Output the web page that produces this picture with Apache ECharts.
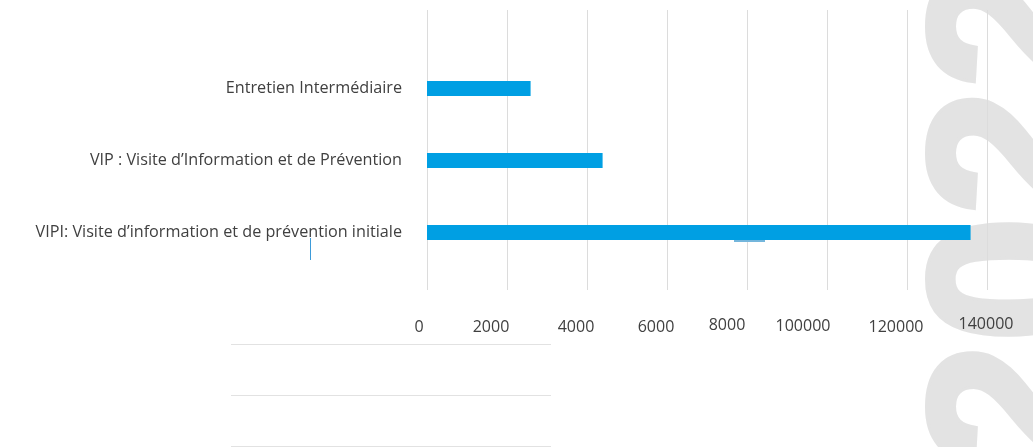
<!DOCTYPE html>
<html>
<head>
<meta charset="utf-8">
<script src="https://cdn.jsdelivr.net/npm/echarts@6/dist/echarts.min.js"></script>
<style>
  html, body { margin: 0; padding: 0; background: #ffffff; }
  #chart { width: 1033px; height: 447px; }
</style>
</head>
<body>
<div id="chart"></div>
<script>
// Visit types, listed bottom to top
const categories = [
  'VIPI: Visite d’information et de prévention initiale',
  'VIP : Visite d’Information et de Prévention',
  'Entretien Intermédiaire'
];
// Number of visits per type
const visits = [13590, 4390, 2590];
// Labels printed under the value axis ticks
const tickLabels = ['0', '2000', '4000', '6000', '8000', '100000', '120000', '140000'];
// Background year
const yearText = '2022';

// Small per-label nudges of the tick labels: [dx, dy] in px
const tickNudge = [[-8, 3], [-16, 3], [-11, 3], [-11, 3], [-20, 1], [-24, 2], [-11, 3], [-1, 0]];

const FONT = '"Open Sans", "Noto Sans", sans-serif';
const TEXT = '#404040';

const rich = {};
tickNudge.forEach(function (n, i) {
  rich['t' + i] = {
    fontFamily: FONT, fontSize: 16, color: TEXT,
    padding: [n[1], Math.max(0, -2 * n[0]), 0, Math.max(0, 2 * n[0])]
  };
});

const chart = echarts.init(document.getElementById('chart'), null, { renderer: 'canvas' });

chart.setOption({
  animation: false,
  backgroundColor: '#ffffff',
  grid: [
    // bars
    { left: 427, right: 46, top: 52.5, bottom: 178.5, containLabel: false },
    // value scale with full-height grid lines
    { left: 427, right: 46, top: 10, bottom: 157, containLabel: false }
  ],
  xAxis: [
    { gridIndex: 0, type: 'value', min: 0, max: 14000, interval: 2000, show: false },
    {
      gridIndex: 1, type: 'value', min: 0, max: 14000, interval: 2000,
      axisLine: { show: false }, axisTick: { show: false },
      splitLine: { show: true, lineStyle: { color: '#dcdcdc', width: 1 } },
      axisLabel: {
        margin: 26,
        formatter: function (v) {
          const i = Math.round(v / 2000);
          return '{t' + i + '|' + tickLabels[i] + '}';
        },
        rich: rich
      }
    }
  ],
  yAxis: [
    {
      gridIndex: 0, type: 'category', data: categories,
      axisLine: { show: false }, axisTick: { show: false },
      splitLine: { show: false },
      axisLabel: { margin: 25, fontFamily: FONT, fontSize: 16.2, color: TEXT, padding: [4, 0, 0, 0] }
    },
    { gridIndex: 1, type: 'value', show: false }
  ],
  series: [{
    type: 'bar',
    xAxisIndex: 0, yAxisIndex: 0,
    data: visits,
    barWidth: 15,
    itemStyle: { color: '#009fe3' },
    silent: true
  }],
  graphic: [
    {
      type: 'text', z: -10, silent: true,
      x: 1025, y: 216, rotation: Math.PI / 2,
      style: {
        text: yearText,
        font: 'bold 228px "Liberation Sans", Arial, sans-serif',
        fill: '#e3e3e3', stroke: '#e3e3e3', lineWidth: 6,
        textAlign: 'center', textVerticalAlign: 'middle'
      }
    },
    { type: 'line', silent: true, shape: { x1: 231, y1: 344.5, x2: 551, y2: 344.5 }, style: { stroke: '#e2e2e2', lineWidth: 1 } },
    { type: 'line', silent: true, shape: { x1: 231, y1: 395.5, x2: 551, y2: 395.5 }, style: { stroke: '#e2e2e2', lineWidth: 1 } },
    { type: 'line', silent: true, shape: { x1: 231, y1: 446.5, x2: 551, y2: 446.5 }, style: { stroke: '#e2e2e2', lineWidth: 1 } },
    { type: 'line', silent: true, shape: { x1: 310.5, y1: 238, x2: 310.5, y2: 260 }, style: { stroke: '#3d9bd9', lineWidth: 1 } },
    { type: 'line', z: 1, silent: true, shape: { x1: 734, y1: 241, x2: 765, y2: 241 }, style: { stroke: '#74b6dc', lineWidth: 2 } }
  ]
});
</script>
</body>
</html>
